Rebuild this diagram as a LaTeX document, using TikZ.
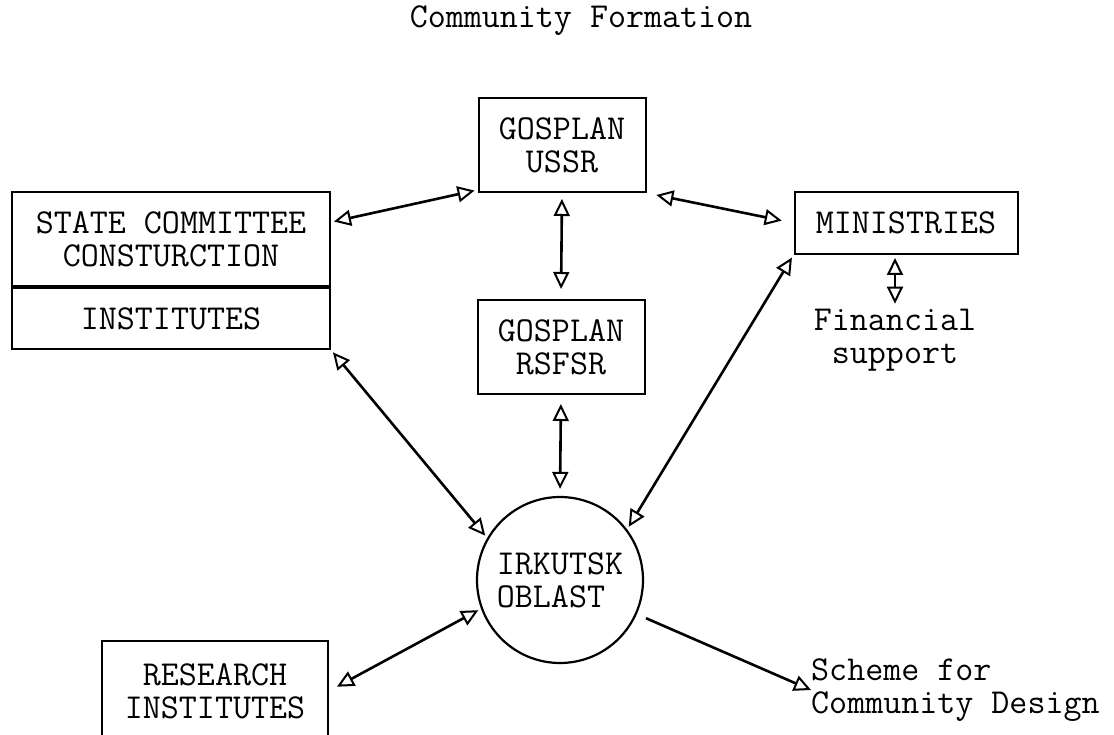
\documentclass[tikz,border=0pt]{standalone}
\usepackage{fontspec}
\usetikzlibrary{arrows.meta,positioning}

\begin{document}
\begin{tikzpicture}[x=1pt, y=-1pt, font=\ttfamily\fontsize{35}{33}\selectfont,
    box/.style={draw, line width=2pt, inner sep=0pt, align=center},
    link/.style={line width=2.6pt, <->, >={Triangle[open,length=17pt,width=16pt,line width=2pt]}, shorten <=3pt, shorten >=3pt}]
    \path[use as bounding box, clip] (0,0) rectangle (1114,735);

    \node (title) at (581,21) {Community Formation};

    \node[box, minimum width=167, minimum height=94] (ussr) at (562,145) {GOSPLAN\\USSR};
    \node[box, minimum width=167, minimum height=94] (rsfsr) at (561,347) {GOSPLAN\\RSFSR};
    \node[box, minimum width=318, minimum height=94] (statecom) at (171,239) {STATE COMMITTEE\\CONSTURCTION};
    \node[box, minimum width=318, minimum height=61, below=0pt of statecom] (institutes) {INSTITUTES};
    \node[box, minimum width=223, minimum height=62] (ministries) at (906,223) {MINISTRIES};
    \node[align=center, inner sep=2pt] (finance) at (895,340) {Financial\\support};
    \node[draw, circle, line width=2.2pt, minimum size=166, inner sep=0pt, align=left] (irkutsk) at (560,580) {IRKUTSK\\OBLAST};
    \node[box, minimum width=226, minimum height=100] (research) at (215,691) {RESEARCH\\INSTITUTES};
    \node[anchor=west, align=left, inner sep=0pt] (scheme) at (811,690) {Scheme for\\Community Design};

    % links
    \draw[link] (statecom.6) -- (ussr.208);
    \draw[link, shorten <=6pt, shorten >=10pt] (ussr.south) -- (rsfsr.north);
    \draw[link, shorten <=10pt, shorten >=12pt] (ussr.south east) -- (ministries.west);
    \draw[link] (finance.north |- ministries.south) -- (finance.north);
    \draw[link] (ministries.south west) -- (irkutsk.37);
    \draw[link] (institutes.south east) -- (irkutsk.150);
    \draw[link, shorten <=9pt, shorten >=7pt] (rsfsr.south) -- (irkutsk.north);
    \draw[link, shorten <=9pt] (research.east) -- (irkutsk.200);
    \draw[line width=2.6pt, -{Triangle[open,length=17pt,width=16pt,line width=2pt]}, shorten <=10pt] (irkutsk.-24) -- (scheme.west);
\end{tikzpicture}
\end{document}
